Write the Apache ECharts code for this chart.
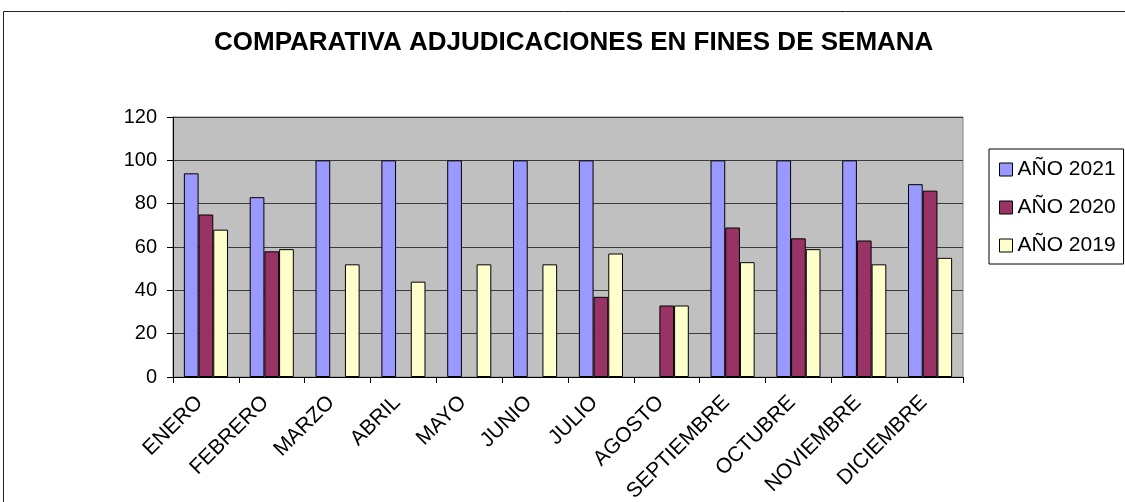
<!DOCTYPE html>
<html lang="es">
<head>
<meta charset="UTF-8" />
<title>Comparativa adjudicaciones</title>
<script src="https://cdn.jsdelivr.net/npm/echarts@6/dist/echarts.min.js"></script>
<style>
  html, body { margin: 0; padding: 0; background: #fff; }
  #chart { width: 1125px; height: 502px; }
</style>
</head>
<body>
<div id="chart"></div>
<script>
// datos
const months = ['ENERO', 'FEBRERO', 'MARZO', 'ABRIL', 'MAYO', 'JUNIO', 'JULIO',
    'AGOSTO', 'SEPTIEMBRE', 'OCTUBRE', 'NOVIEMBRE', 'DICIEMBRE'];
const year2021 = [94, 83, 100, 100, 100, 100, 100, null, 100, 100, 100, 89];
const year2020 = [75, 58, null, null, null, null, 37, 33, 69, 64, 63, 86];
const year2019 = [68, 59, 52, 44, 52, 52, 57, 33, 53, 59, 52, 55];
const seriesNames = ['AÑO 2021', 'AÑO 2020', 'AÑO 2019'];
const yTicks = { min: 0, max: 120, interval: 20 };

const font = '"Liberation Sans", Arial, sans-serif';
const colors = ['#9999ff', '#993366', '#ffffcc'];

const chart = echarts.init(document.getElementById('chart'));

const barSeries = [year2021, year2020, year2019].map((vals, i) => ({
    name: seriesNames[i],
    type: 'bar',
    data: vals,
    barGap: '0%',
    barCategoryGap: '33%',
    itemStyle: { color: colors[i], borderColor: '#000', borderWidth: 1 },
    emphasis: { disabled: true },
}));

const option = {
    animation: false,
    textStyle: { fontFamily: font },
    graphic: [{
        type: 'rect',
        shape: { x: 3.5, y: 11.5, width: 1140, height: 520 },
        style: { fill: 'none', stroke: '#222', lineWidth: 1 },
        silent: true,
        z: -1,
    }],
    title: {
        text: 'COMPARATIVA ADJUDICACIONES EN FINES DE SEMANA',
        left: 214,
        top: 30,
        padding: 0,
        textStyle: { fontFamily: font, fontSize: 26, fontWeight: 'bold', color: '#000' },
    },
    legend: {
        orient: 'vertical',
        left: 989,
        top: 149,
        padding: [10, 8, 8, 10],
        itemGap: 17,
        itemWidth: 13,
        itemHeight: 13,
        icon: 'rect',
        borderColor: '#000',
        borderWidth: 1,
        backgroundColor: '#fff',
        itemStyle: { borderColor: '#000', borderWidth: 1 },
        textStyle: { fontFamily: font, fontSize: 21, color: '#000' },
        data: seriesNames,
        selectedMode: false,
    },
    grid: {
        left: 173,
        top: 117,
        right: 162,
        bottom: 125,
        show: true,
        backgroundColor: '#c0c0c0',
        borderColor: '#808080',
        borderWidth: 1,
        containLabel: false,
        outerBoundsMode: 'none',
    },
    xAxis: {
        type: 'category',
        data: months,
        axisLine: { lineStyle: { color: '#000', width: 1 } },
        axisTick: { show: true, length: 6, lineStyle: { color: '#000' } },
        axisLabel: {
            rotate: 45,
            margin: 16,
            padding: [0, 9, 0, 0],
            interval: 0,
            fontFamily: font,
            fontSize: 21,
            color: '#000',
        },
    },
    yAxis: {
        type: 'value',
        min: yTicks.min,
        max: yTicks.max,
        interval: yTicks.interval,
        axisLine: { show: true, lineStyle: { color: '#000', width: 1 } },
        axisTick: { show: true, length: 6, lineStyle: { color: '#000' } },
        axisLabel: { margin: 16, fontFamily: font, fontSize: 20, color: '#000' },
        splitLine: { show: true, lineStyle: { color: '#3c3c3c', width: 1 } },
    },
    series: barSeries,
};

chart.setOption(option);
</script>
</body>
</html>
